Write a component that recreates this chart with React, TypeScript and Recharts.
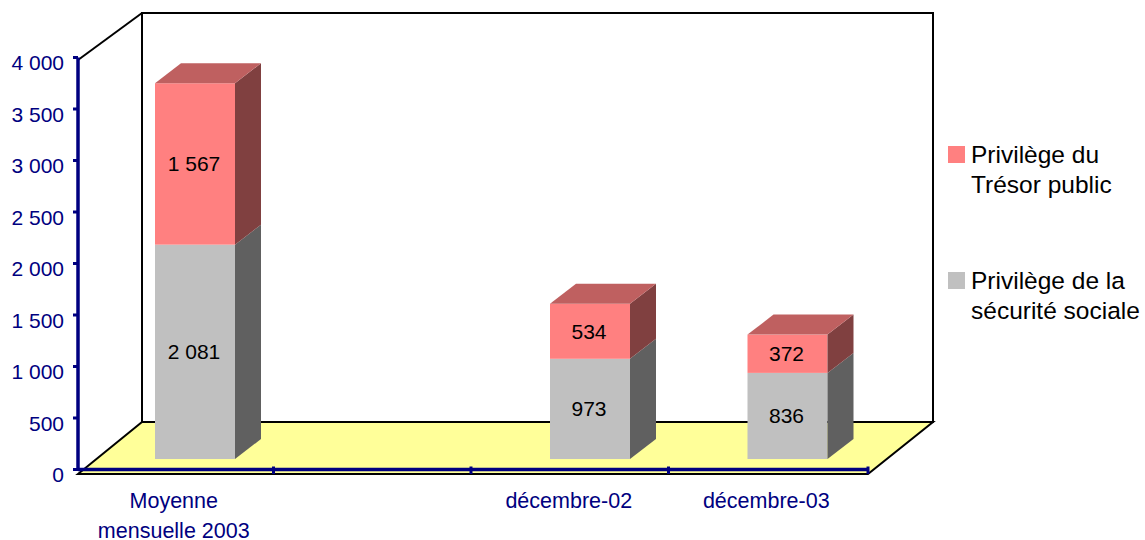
import React from "react";
import { BarChart, Bar, XAxis, YAxis, Legend, LabelList, Customized } from "recharts";

const categories = ["Moyenne\nmensuelle 2003", "", "décembre-02", "décembre-03"];
const securiteSociale = [2081, null, 973, 836];
const tresorPublic = [1567, null, 534, 372];
const yTicks = [0, 500, 1000, 1500, 2000, 2500, 3000, 3500, 4000];

const data = categories.map((category, i) => ({
  category,
  securite: securiteSociale[i],
  tresor: tresorPublic[i],
}));

const W = 1145;
const H = 540;
const FONT = '"Liberation Sans", Arial, sans-serif';
const NAVY = "#000080";
const M = { left: 78, right: 277, top: 57.5, bottom: 70.5 };
const BAND = (W - M.left - M.right) / categories.length;
const SHIFT_X = 18;
const SHIFT_Y = -10.5;
const DEPTH_X = 26;
const DEPTH_Y = 20;

const fmt = (v: number) => String(v).replace(/\B(?=(\d{3})+$)/g, " ");

function Box(props: any) {
  const { x, y, width, height, face, side, top } = props;
  if (!height || height <= 0) return null;
  const l = x + SHIFT_X;
  const r = l + width;
  const t = y + SHIFT_Y;
  const b = t + height;
  return (
    <g>
      <rect x={l} y={t} width={width} height={height} fill={face} />
      <polygon
        points={`${r},${t} ${r + DEPTH_X},${t - DEPTH_Y} ${r + DEPTH_X},${b - DEPTH_Y} ${r},${b}`}
        fill={side}
      />
      {top && (
        <polygon
          points={`${l},${t} ${l + DEPTH_X},${t - DEPTH_Y} ${r + DEPTH_X},${t - DEPTH_Y} ${r},${t}`}
          fill={top}
        />
      )}
    </g>
  );
}

function BoxLabel(props: any) {
  const { x, y, width, height, value } = props;
  if (value == null || !height) return null;
  return (
    <text
      x={x + width / 2 + SHIFT_X - 1}
      y={y + height / 2 + SHIFT_Y + 7.5}
      textAnchor="middle"
      fontFamily={FONT}
      fontSize={21}
      fill="#000"
    >
      {fmt(Number(value))}
    </text>
  );
}

function Room() {
  const bx = 142, by = 13, fy = 422, rx = 933;
  const fl = 78, fr = 868, fb = 474, tl = 60;
  return (
    <g>
      <polygon points={`${fl},${fb} ${bx},${fy} ${rx},${fy} ${fr},${fb}`} fill="#FFFF99" stroke="#000" strokeWidth={2} />
      <rect x={bx} y={by} width={rx - bx} height={fy - by} fill="#fff" stroke="#000" strokeWidth={2} />
      <line x1={fl} y1={tl} x2={bx} y2={by} stroke="#000" strokeWidth={2} />
    </g>
  );
}

function YTick(props: any) {
  const { x, y, payload } = props;
  return (
    <text x={x - 7} y={y + 12.5} textAnchor="end" fontFamily={FONT} fontSize={21} fill={NAVY}>
      {fmt(payload.value)}
    </text>
  );
}

function XTick(props: any) {
  const { x, payload, index } = props;
  const lines = String(payload.value).split("\n");
  const axisY = H - M.bottom;
  const right = x + BAND / 2 - (index < categories.length - 1 ? 2 : 0);
  return (
    <g>
      <line x1={right} x2={right} y1={axisY - 3} y2={axisY + 4.5} stroke={NAVY} strokeWidth={3} />
      {lines.map((t, i) => (
        <text
          key={i}
          x={x - 3}
          y={axisY + 38.5 + i * 30}
          textAnchor="middle"
          fontFamily={FONT}
          fontSize={21.5}
          fill={NAVY}
        >
          {t}
        </text>
      ))}
    </g>
  );
}

function LegendBox(props: any) {
  const items = [...(props.payload || [])].reverse();
  return (
    <div>
      {items.map((it: any, i: number) => (
        <div
          key={i}
          style={{
            position: "absolute",
            left: 0,
            top: i * 126,
            width: 197,
            height: 60,
          }}
        >
          <div
            style={{
              position: "absolute",
              left: 0,
              top: 6,
              width: 17,
              height: 17,
              background: it.color,
            }}
          />
          <div
            style={{
              position: "absolute",
              left: 23,
              top: 0,
              width: 174,
              fontFamily: FONT,
              fontSize: 24.5,
              lineHeight: "30px",
              color: "#000",
            }}
          >
            {it.value}
          </div>
        </div>
      ))}
    </div>
  );
}

export default function App() {
  return (
    <div style={{ position: "absolute", left: 0, top: 0, width: W, height: H, overflow: "hidden" }}>
      <BarChart
        width={W}
        height={H}
        data={data}
        margin={{ left: 0, right: M.right, top: M.top, bottom: 0 }}
        barSize={80}
      >
        <Customized component={Room} />
        <XAxis
          dataKey="category"
          height={M.bottom}
          interval={0}
          tickLine={false}
          axisLine={{ stroke: NAVY, strokeWidth: 3.5 }}
          tick={<XTick />}
        />
        <YAxis
          width={M.left}
          domain={[0, 4000]}
          ticks={yTicks}
          interval={0}
          tickSize={5}
          tickLine={{ stroke: NAVY, strokeWidth: 3 }}
          axisLine={{ stroke: NAVY, strokeWidth: 3.5 }}
          tick={<YTick />}
        />
        <Legend
          layout="vertical"
          align="center"
          verticalAlign="middle"
          wrapperStyle={{ left: 948, top: 140, width: 197, height: 190, right: "auto", bottom: "auto" }}
          content={<LegendBox />}
        />
        <Bar
          dataKey="securite"
          name="Privilège de la sécurité sociale"
          stackId="a"
          fill="#C0C0C0"
          isAnimationActive={false}
          shape={<Box face="#C0C0C0" side="#606060" />}
        >
          <LabelList dataKey="securite" content={<BoxLabel />} />
        </Bar>
        <Bar
          dataKey="tresor"
          name="Privilège du Trésor public"
          stackId="a"
          fill="#FF8080"
          isAnimationActive={false}
          shape={<Box face="#FF8080" side="#804040" top="#BF6060" />}
        >
          <LabelList dataKey="tresor" content={<BoxLabel />} />
        </Bar>
      </BarChart>
    </div>
  );
}
